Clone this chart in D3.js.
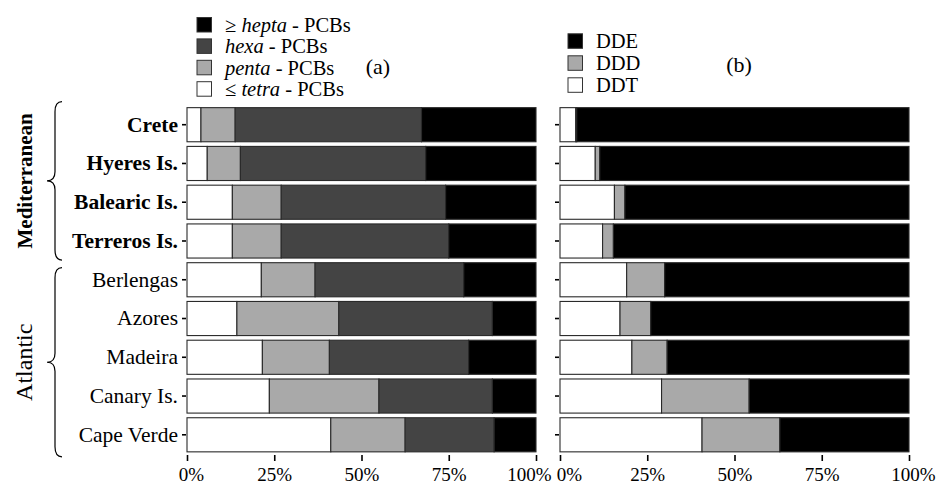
<!DOCTYPE html>
<html>
<head>
<meta charset="utf-8">
<script src="https://cdn.jsdelivr.net/npm/d3@7"></script>
<style>
  body { margin: 0; background: #fff; }
  svg text { font-family: "Liberation Serif", "Times New Roman", serif; }
</style>
</head>
<body>
<svg id="chart" width="940" height="484"></svg>
<script>
const sites = ["Crete", "Hyeres Is.", "Balearic Is.", "Terreros Is.", "Berlengas", "Azores", "Madeira", "Canary Is.", "Cape Verde"];
const regions = ["Mediterranean", "Mediterranean", "Mediterranean", "Mediterranean", "Atlantic", "Atlantic", "Atlantic", "Atlantic", "Atlantic"];

// panel (a) PCB profile, % of total
const tetraPCB = [4.0, 5.8, 13.0, 13.0, 21.3, 14.3, 21.6, 23.6, 41.2];
const pentaPCB = [9.8, 9.5, 14.0, 14.0, 15.4, 29.2, 19.2, 31.4, 21.3];
const hexaPCB  = [53.4, 53.1, 47.1, 48.0, 42.6, 44.0, 39.9, 32.5, 25.5];
const heptaPCB = [32.8, 31.6, 25.9, 25.0, 20.7, 12.5, 19.3, 12.5, 12.0];

// panel (b) DDT profile, % of total
const ddt = [4.5, 10.1, 15.6, 12.2, 19.1, 17.2, 20.6, 29.1, 40.7];
const ddd = [0.3, 1.3, 3.0, 3.1, 10.9, 8.8, 10.1, 25.1, 22.3];
const dde = [95.2, 88.6, 81.4, 84.7, 70.0, 74.0, 69.3, 45.8, 37.0];

const xTicks = [0, 0.25, 0.5, 0.75, 1];

const FONT = "Liberation Serif";
const svg = d3.select("#chart").attr("font-family", FONT);

const y = d3.scaleBand().domain(sites).range([103, 456.5]).padding(0.12);

function drawPanel(x0, x1, keys, cols, fills, showLabels, labelShift) {
    const x = d3.scaleLinear().domain([0, 100]).range([x0, x1]);
    const rows = sites.map((s, i) => {
        const r = { site: s };
        keys.forEach((k, j) => r[k] = cols[j][i]);
        return r;
    });
    const series = d3.stack().keys(keys)(rows);
    const color = d3.scaleOrdinal().domain(keys).range(fills);

    svg.append("g")
        .selectAll("g")
        .data(series)
        .enter().append("g")
        .attr("fill", d => color(d.key))
        .selectAll("rect")
        .data(d => d)
        .enter().append("rect")
        .attr("x", d => x(d[0]))
        .attr("y", d => y(d.data.site))
        .attr("width", d => x(d[1]) - x(d[0]))
        .attr("height", y.bandwidth())
        .attr("stroke", "#2a2a2a")
        .attr("stroke-width", 1.1);

    // x axis
    const xa = d3.scaleLinear().domain([0, 1]).range([x0, x1]);
    const ax = svg.append("g")
        .attr("transform", "translate(0,455)")
        .call(d3.axisBottom(xa).tickValues(xTicks).tickFormat(d3.format(".0%")).tickSize(6).tickPadding(6.5));
    ax.attr("font-family", FONT);
    ax.select(".domain").remove();
    ax.selectAll("line").attr("stroke", "#000").attr("stroke-width", 1.6);
    ax.selectAll("text")
        .attr("font-size", 19)
        .attr("font-family", FONT)
        .attr("fill", "#000")
        .attr("dx", (d, i) => labelShift[i]);

    // y axis
    const ay = svg.append("g")
        .attr("transform", `translate(${x0 - 1},0)`)
        .call(d3.axisLeft(y).tickSize(4).tickPadding(4));
    ay.attr("font-family", FONT);
    ay.select(".domain").remove();
    ay.selectAll("line").attr("stroke", "#000").attr("stroke-width", 1.6);
    if (showLabels) {
        ay.selectAll("text")
            .attr("font-size", 21.5)
            .attr("font-family", FONT)
            .attr("fill", "#000")
            .attr("font-weight", (d, i) => regions[i] === "Mediterranean" ? "bold" : "normal");
    } else {
        ay.selectAll("text").remove();
    }
}

drawPanel(187, 536, ["tetra", "penta", "hexa", "hepta"],
    [tetraPCB, pentaPCB, hexaPCB, heptaPCB], ["#ffffff", "#a9a9a9", "#444444", "#000000"], true,
    [4, 0, 0, 0, -7]);
drawPanel(560, 909, ["DDT", "DDD", "DDE"],
    [ddt, ddd, dde], ["#ffffff", "#a9a9a9", "#000000"], false,
    [9, 0, 0, 0, 4]);

// region braces
const groups = [
    { name: "Mediterranean", bold: true, size: 21, first: "Crete", last: "Terreros Is.", off0: -6, off1: 2 },
    { name: "Atlantic", bold: false, size: 24, first: "Berlengas", last: "Cape Verde", off0: 5, off1: 5 }
];
groups.forEach(gr => {
    const y1 = y(gr.first) + gr.off0;
    const y2 = y(gr.last) + y.bandwidth() + gr.off1;
    const ym = (y1 + y2) / 2;
    const xr = 62, xm = 55, xt = 47;
    const p = `M${xr},${y1} Q${xm},${y1} ${xm},${y1 + 10} L${xm},${ym - 9} Q${xm},${ym} ${xt},${ym} ` +
        `Q${xm},${ym} ${xm},${ym + 9} L${xm},${y2 - 10} Q${xm},${y2} ${xr},${y2}`;
    svg.append("path").attr("d", p).attr("fill", "none").attr("stroke", "#000").attr("stroke-width", 1.2);
    svg.append("text")
        .attr("transform", `translate(32,${ym}) rotate(-90)`)
        .attr("text-anchor", "middle")
        .attr("font-family", FONT)
        .attr("font-size", gr.size)
        .attr("font-weight", gr.bold ? "bold" : "normal")
        .text(gr.name);
});

// legends
const legA = [
    { pre: "≥ ", it: "hepta", post: " - PCBs", fill: "#000000" },
    { pre: "", it: "hexa", post: " - PCBs", fill: "#444444" },
    { pre: "", it: "penta", post: " - PCBs", fill: "#a9a9a9" },
    { pre: "≤ ", it: "tetra", post: " - PCBs", fill: "#ffffff" }
];
const legB = [
    { pre: "DDE", it: "", post: "", fill: "#000000" },
    { pre: "DDD", it: "", post: "", fill: "#a9a9a9" },
    { pre: "DDT", it: "", post: "", fill: "#ffffff" }
];

function drawLegend(items, x, y0, step) {
    const it = svg.append("g").selectAll("g").data(items).enter().append("g")
        .attr("transform", (d, i) => `translate(${x},${y0 + i * step})`);
    it.append("rect")
        .attr("x", 0).attr("y", -7.2).attr("width", 14.5).attr("height", 14.5)
        .attr("fill", d => d.fill).attr("stroke", "#333").attr("stroke-width", 1);
    const t = it.append("text").attr("x", 28).attr("y", 7)
        .attr("font-family", FONT).attr("font-size", 20.5);
    t.append("tspan").text(d => d.pre);
    t.append("tspan").attr("font-style", "italic").text(d => d.it);
    t.append("tspan").text(d => d.post);
}
drawLegend(legA, 197, 24.7, 21.4);
drawLegend(legB, 568, 41, 22);

svg.append("text").attr("x", 378).attr("y", 74).attr("text-anchor", "middle")
    .attr("font-family", FONT).attr("font-size", 22).text("(a)");
svg.append("text").attr("x", 739).attr("y", 72).attr("text-anchor", "middle")
    .attr("font-family", FONT).attr("font-size", 22).text("(b)");
</script>
</body>
</html>
